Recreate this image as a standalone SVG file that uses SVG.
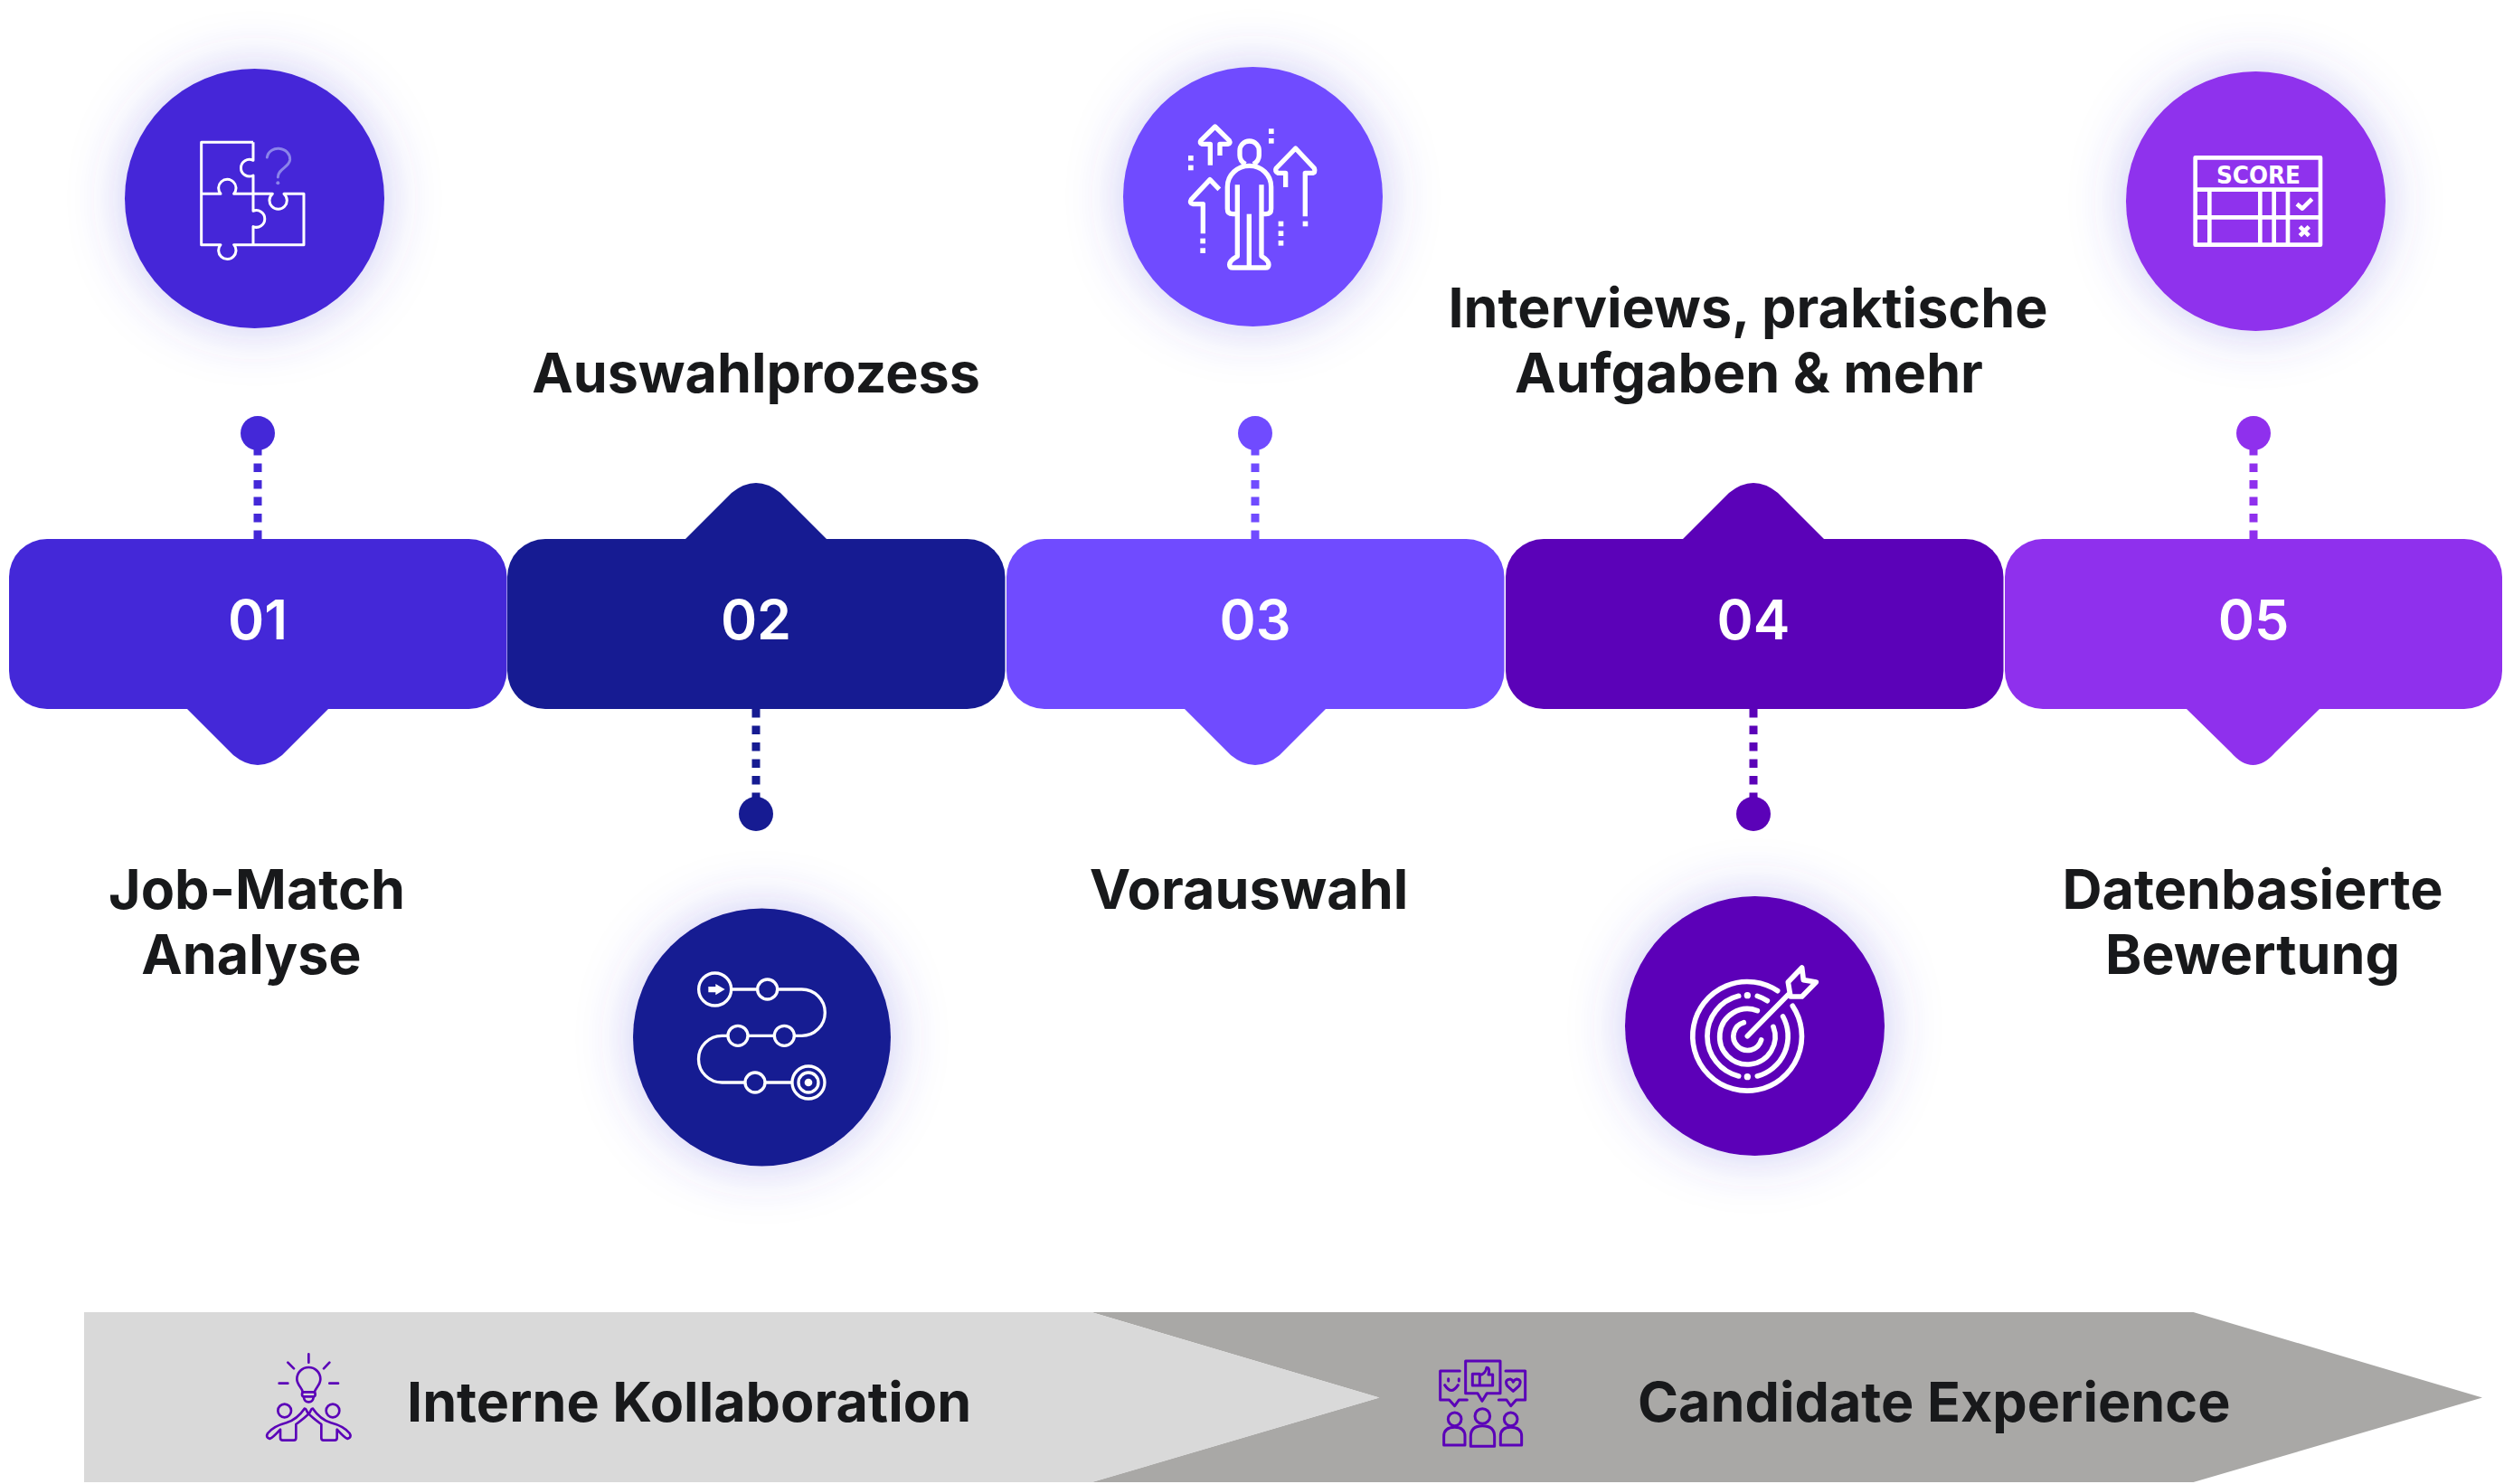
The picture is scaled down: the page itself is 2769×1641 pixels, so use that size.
<svg xmlns="http://www.w3.org/2000/svg" width="2769" height="1641" viewBox="0 0 2769 1641">
<style>
text{font-family:"Inter","Liberation Sans",sans-serif}
.t{font-size:61px;font-weight:700;fill:#18191b;text-anchor:middle}
.n{font-size:61px;font-weight:600;fill:#fff;text-anchor:middle}
.c1{fill:#4428d8}.c2{fill:#161b92}.c3{fill:#704bff}.c4{fill:#5b02b8}.c5{fill:#8f30ed}
.d{fill:none;stroke-width:9;stroke-dasharray:9.5 9}
.w{fill:none;stroke:#fff;stroke-linejoin:round}
.sq{fill:#fff}
.p{fill:none;stroke:#5b02b8;stroke-linejoin:round;stroke-linecap:round}
.g{filter:url(#glow)}
</style>
<defs>
<filter id="glow" x="-60%" y="-60%" width="220%" height="220%"><feDropShadow dx="0" dy="0" stdDeviation="30" flood-color="#4f45d8" flood-opacity="0.3"/></filter>
<path id="ptd" d="M-78,0 L-27,51 Q0,73 27,51 L78,0 Z"/>
<path id="ptu" d="M-78,0 L-27,-51 Q0,-73 27,-51 L78,0 Z"/>
</defs>
<rect width="2769" height="1641" fill="#fff"/>

<g id="connectors">
<path class="d" stroke="#4428d8" d="M285,596 V490"/>
<path class="d" stroke="#161b92" d="M836,784 V890"/>
<path class="d" stroke="#704bff" d="M1388,596 V490"/>
<path class="d" stroke="#5b02b8" d="M1939,784 V890"/>
<path class="d" stroke="#8f30ed" d="M2492,596 V490"/>
<circle class="c1" cx="285" cy="479" r="19"/>
<circle class="c2" cx="836" cy="900" r="19"/>
<circle class="c3" cx="1388" cy="479" r="19"/>
<circle class="c4" cx="1939" cy="900" r="19"/>
<circle class="c5" cx="2492" cy="479" r="19"/>
</g>

<g id="step-01">
<rect class="c1" x="10" y="596" width="550.5" height="188" rx="42"/>
<use href="#ptd" class="c1" x="285" y="784"/>
<text class="n" x="285" y="707">01</text>
<circle class="c1 g" cx="281.5" cy="219.5" r="143.5"/>
<g transform="translate(100,40) scale(.3333)" class="w" stroke-width="9">
<path d="M540,352 H368 V692 H432 A29,29 0 1 0 476,692 H708 V523 H642 A29,29 0 1 1 604,523 H540"/>
<path d="M540,352 V412 A28,28 0 1 0 540,462 V580 A28,28 0 1 1 540,632 V692"/>
<path d="M368,523 H432 A29,29 0 1 1 476,523 H540"/>
<path style="stroke:#8b84ea;stroke-linecap:round" d="M586,402 C590,380 610,372 625,373 C650,375 663,392 662,410 C660,435 622,440 622,468"/>
<circle cx="622" cy="487" r="6" style="fill:#8b84ea;stroke:none"/>
</g>
<text class="t" x="284" y="1005">Job-Match</text>
<text class="t" x="278" y="1077">Analyse</text>
</g>

<g id="step-02">
<rect class="c2" x="561" y="596" width="550.5" height="188" rx="42"/>
<use href="#ptu" class="c2" x="836" y="596"/>
<text class="n" x="836" y="707">02</text>
<circle class="c2 g" cx="842.5" cy="1147" r="142.5"/>
<g transform="translate(680,990) scale(.3333)" class="w" stroke-width="10">
<circle cx="332" cy="312" r="54"/><circle cx="506" cy="312" r="33"/>
<circle cx="408" cy="466" r="33"/><circle cx="562" cy="466" r="33"/>
<circle cx="465" cy="621" r="33"/>
<circle cx="642" cy="621" r="54"/><circle cx="642" cy="621" r="33"/>
<circle cx="642" cy="621" r="13" class="sq" style="stroke:none"/>
<path d="M386,312 H473 M539,312 H620 A77,77 0 0 1 620,466 H595 M529,466 H441 M375,466 H355 A77.5,77.5 0 0 0 355,621 H432 M498,621 H588"/>
<path class="sq" style="stroke:none" d="M310,303 H334 V294 L365,312 L334,331 V322 H310 Z"/>
</g>
<text class="t" x="836" y="434">Auswahlprozess</text>
</g>

<g id="step-03">
<rect class="c3" x="1113" y="596" width="550.5" height="188" rx="42"/>
<use href="#ptd" class="c3" x="1388" y="784"/>
<text class="n" x="1388" y="707">03</text>
<circle class="c3 g" cx="1385.5" cy="217.5" r="143.5"/>
<g transform="translate(1200,50) scale(.3333)" class="w" stroke-width="16">
<path d="M532,395 C520,388 513,378 513,365 V350 C513,332 527,318 545,318 C563,318 577,332 577,350 V365 C577,378 570,388 558,395"/>
<path d="M505,463 V700 C490,708 479,718 479,728 Q479,738 490,738 H598 Q609,738 609,728 C609,718 598,708 585,700 V463"/>
<path d="M505,560 H490 Q472,560 472,542 V470 C472,430 505,400 545,400 C585,400 617,430 617,470 V542 Q617,560 600,560 H585"/>
<path d="M544,560 V738"/>
<path d="M415,398 V328 H388 Q378,324 384,316 L431,270 L478,316 Q484,326 473,328 H447 V366"/>
<path d="M665,471 V424 H640 Q628,418 634,408 L698,342 L760,408 Q766,424 752,424 H730 V568"/>
<path d="M391,625 V527 H358 Q345,525 352,512 L414,446 L445,478"/>
<g class="sq" style="stroke:none">
<rect x="722" y="584" width="17" height="17"/><rect x="382" y="641" width="17" height="17"/><rect x="382" y="673" width="17" height="17"/>
<rect x="342" y="366" width="17" height="17"/><rect x="342" y="398" width="17" height="17"/>
<rect x="609" y="277" width="17" height="17"/><rect x="609" y="309" width="17" height="17"/>
<rect x="641" y="584" width="17" height="17"/><rect x="641" y="616" width="17" height="17"/><rect x="641" y="648" width="17" height="17"/>
</g>
</g>
<text class="t" x="1381" y="1005">Vorauswahl</text>
</g>

<g id="step-04">
<rect class="c4" x="1665" y="596" width="550.5" height="188" rx="42"/>
<use href="#ptu" class="c4" x="1939" y="596"/>
<text class="n" x="1939" y="707">04</text>
<circle class="c4 g" cx="1940.5" cy="1134.5" r="143.5"/>
<g transform="translate(1780,980) scale(.3333)" class="w" stroke-width="17" style="stroke-linecap:round">
<path d="M557,347 A181,181 0 1 0 607,397"/>
<path d="M428,364 A137,137 0 0 0 428,630"/>
<path d="M490,630 A137,137 0 0 0 575,432"/>
<path d="M490,364 A137,137 0 0 1 523,380"/>
<path d="M490,413 A92,92 0 1 0 543,466"/>
<path d="M445,452 A47,47 0 1 0 503,510"/>
<path d="M457,497 L592,360"/>
<path d="M592,318 L638,270 L643,311 L685,318 L638,366 L600,366 Z"/>
<g class="sq" style="stroke:none"><circle cx="457" cy="362" r="11"/><circle cx="457" cy="632" r="11"/></g>
</g>
<text class="t" x="1933" y="362">Interviews, praktische</text>
<text class="t" x="1934" y="434">Aufgaben &amp; mehr</text>
</g>

<g id="step-05">
<rect class="c5" x="2217" y="596" width="550" height="188" rx="42"/>
<path class="c5" d="M2418,784 L2467,832 C2475,841 2483,846 2491.5,846 C2500,846 2508,841 2516,832 L2565,784 Z"/>
<text class="n" x="2492" y="707">05</text>
<circle class="c5 g" cx="2494.5" cy="222.5" r="143.5"/>
<g transform="translate(2300,60) scale(.3333)" class="w" stroke-width="14">
<rect x="383" y="343" width="415" height="289"/>
<path d="M384,449 H798 M384,541 H798 M430,449 V632 M598,449 V632 M644,449 V632 M690,449 V632"/>
<path d="M720,497 L738,512 L770,480 M730,572 L760,602 M760,572 L730,602"/>
</g>
<text x="2451" y="202.5" font-size="27" font-weight="700" textLength="93" lengthAdjust="spacingAndGlyphs" style="font-family:'DejaVu Sans',sans-serif" fill="#fff">SCORE</text>
<text class="t" x="2491" y="1005">Datenbasierte</text>
<text class="t" x="2491" y="1077">Bewertung</text>
</g>

<g id="band-candidate">
<path fill="#a9a8a6" d="M1207,1451 H2425.5 L2745,1545.5 L2425.5,1639 H1207 L1525,1545.5 Z"/>
<g transform="translate(1560,1480) scale(.3333)" class="p" stroke-width="9">
<path d="M163,108 H98 V204 H128 L146,224 L160,204 H187"/>
<path d="M125,134 V141 M160,134 V141 M113,155 Q135,190 157,155"/>
<path d="M182,75 H297 V182 H253 L237,208 L222,182 H182 Z"/>
<path d="M205,118 H229 V156 H205 Z M229,122 C240,120 250,110 252,97 Q264,97 258,120 H272 V156 H229"/>
<path d="M315,108 H380 V204 H350 L332,224 L318,204 H292"/>
<path d="M340,175 L320,157 Q310,137 330,135 Q338,137 340,145 Q343,137 352,135 Q370,137 360,157 Z"/>
<circle cx="146" cy="268" r="22"/><path d="M110,354 V325 Q110,295 146,295 Q180,295 180,325 V354 Z"/>
<circle cx="238" cy="258" r="25"/><path d="M199,358 V325 Q199,290 238,290 Q278,290 278,325 V358 Z"/>
<circle cx="332" cy="268" r="22"/><path d="M298,354 V325 Q298,295 332,295 Q368,295 368,325 V354 Z"/>
</g>
<text class="t" style="text-anchor:start" x="1811" y="1572">Candidate Experience</text>
</g>

<g id="band-intern">
<path fill="#d9d9d9" d="M93,1451 H1207 L1525.5,1545.5 L1208,1639 H93 Z"/>
<g transform="translate(260,1470) scale(.3333)" class="p" stroke-width="8">
<path d="M224,208 C224,195 205,185 205,165 A39,39 0 1 1 283,165 C283,185 265,195 264,208"/>
<rect x="222" y="208" width="44" height="15" rx="7"/><path d="M228,226 Q230,241 244,241 Q258,241 260,226"/>
<path d="M244,82 V110 M175,110 L195,130 M313,110 L294,130 M146,179 H175 M313,179 H342"/>
<circle cx="164" cy="270" r="22"/><circle cx="324" cy="270" r="22"/>
<path d="M244,280 C235,272 238,262 230,263 C215,285 200,300 170,310 C140,318 120,330 108,345 Q100,358 115,363 Q125,360 150,332 V360 Q150,368 158,368 H195 Q202,368 202,360 V315 C215,305 235,290 244,280"/>
<path d="M244,280 C253,272 250,262 258,263 C273,285 288,300 318,310 C348,318 368,330 380,345 Q388,358 373,363 Q363,360 338,332 V360 Q338,368 330,368 H293 Q286,368 286,360 V315 C273,305 253,290 244,280"/>
</g>
<text class="t" style="text-anchor:start" x="450" y="1572">Interne Kollaboration</text>
</g>
</svg>
